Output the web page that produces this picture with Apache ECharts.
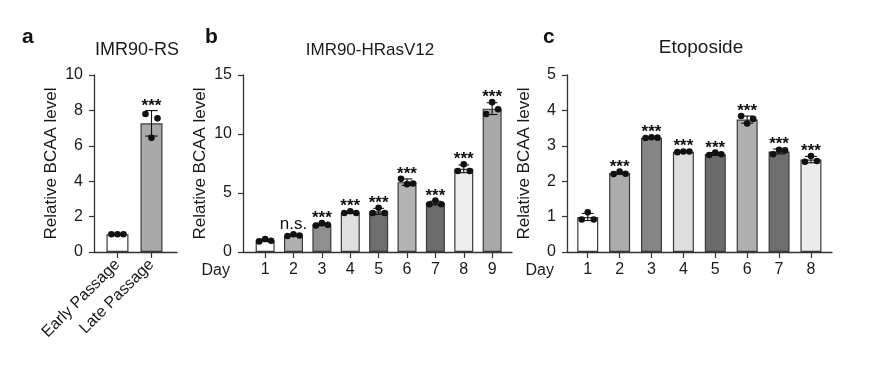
<!DOCTYPE html>
<html>
<head>
<meta charset="utf-8">
<script src="https://cdn.jsdelivr.net/npm/echarts@6/dist/echarts.min.js"></script>
<style>
html,body{margin:0;padding:0;background:#fff;}
#chart{width:879px;height:373px;}
</style>
</head>
<body>
<div id="chart"></div>
<script>
// ---------- data ----------
const catsA = ['Early Passage', 'Late Passage'];
const meanA = [1.0, 7.27];
const sdA = [0.02, 0.72];
const dotsA = [[1.0, 1.0, 1.0], [7.8, 6.45, 7.55]];
const sigA = ['', '***'];

const catsB = ['1', '2', '3', '4', '5', '6', '7', '8', '9'];
const meanB = [0.98, 1.42, 2.33, 3.35, 3.45, 5.92, 4.15, 7.05, 12.15];
const sdB = [0.1, 0.08, 0.1, 0.08, 0.25, 0.27, 0.16, 0.33, 0.5];
const dotsB = [[0.9, 1.1, 0.95], [1.35, 1.5, 1.4], [2.25, 2.45, 2.3], [3.3, 3.45, 3.3], [3.3, 3.75, 3.3],
  [6.2, 5.75, 5.8], [4.05, 4.35, 4.05], [6.87, 7.44, 6.87], [11.7, 12.7, 12.1]];
const sigB = ['', 'n.s.', '***', '***', '***', '***', '***', '***', '***'];

const catsC = ['1', '2', '3', '4', '5', '6', '7', '8'];
const meanC = [0.99, 2.23, 3.23, 2.83, 2.77, 3.74, 2.84, 2.61];
const sdC = [0.1, 0.03, 0.02, 0.02, 0.04, 0.1, 0.07, 0.09];
const dotsC = [[0.92, 1.12, 0.92], [2.2, 2.27, 2.21], [3.22, 3.24, 3.23], [2.82, 2.84, 2.84], [2.74, 2.81, 2.76],
  [3.84, 3.63, 3.76], [2.76, 2.89, 2.87], [2.55, 2.71, 2.57]];
const sigC = ['', '***', '***', '***', '***', '***', '***', '***'];

// ---------- styles ----------
const colorsA = ['#ffffff', '#a9a9a9'];
const colorsB = ['#ffffff', '#b0b0b0', '#8f8f8f', '#e0e0e0', '#6e6e6e', '#b3b3b3', '#6c6c6c', '#eeeeee', '#a8a8a8'];
const colorsC = ['#ffffff', '#acacac', '#858585', '#dedede', '#6b6b6b', '#b0b0b0', '#6e6e6e', '#ebebeb'];
const FONT = "'Liberation Sans', Arial, sans-serif";
const AX = '#333';
const TXT = '#1a1a1a';
const dotOffsets = [-6, 0, 6];

const panels = [
  {cats: catsA, mean: meanA, sd: sdA, dots: dotsA, sig: sigA, colors: colorsA,
   grid: {left: 94, top: 75, width: 83, height: 177}, xmin: 0.31, xmax: 2.75, ymax: 10, yint: 2,
   barWidth: 22, rotate: 45, dayName: ''},
  {cats: catsB, mean: meanB, sd: sdB, dots: dotsB, sig: sigB, colors: colorsB,
   grid: {left: 243, top: 75, width: 269, height: 177}, xmin: 0.22, xmax: 9.7, ymax: 15, yint: 5,
   barWidth: 19, rotate: 0, dayName: 'Day'},
  {cats: catsC, mean: meanC, sd: sdC, dots: dotsC, sig: sigC, colors: colorsC,
   grid: {left: 567, top: 75, width: 265, height: 177}, xmin: 0.35, xmax: 8.66, ymax: 5, yint: 1,
   barWidth: 21, rotate: 0, dayName: 'Day'}
];

const grids = [], xAxes = [], yAxes = [], series = [];
panels.forEach((p, i) => {
  grids.push(Object.assign({containLabel: false}, p.grid));
  const ticks = p.cats.map((c, k) => k + 1);
  xAxes.push({
    type: 'value', gridIndex: i, min: p.xmin, max: p.xmax,
    axisLine: {show: true, lineStyle: {color: AX, width: 1.3}},
    axisTick: {show: true, customValues: ticks, length: 6, lineStyle: {color: AX, width: 1.2}},
    axisLabel: {customValues: ticks, formatter: v => p.cats[Math.round(v) - 1], fontSize: 16,
      color: TXT, fontFamily: FONT, rotate: p.rotate, margin: 10},
    splitLine: {show: false},
    name: p.dayName, nameLocation: 'start', nameGap: 13,
    nameTextStyle: {fontSize: 16, color: TXT, fontFamily: FONT, verticalAlign: 'top', padding: [11, 0, 0, 0]}
  });
  yAxes.push({
    type: 'value', gridIndex: i, min: 0, max: p.ymax, interval: p.yint,
    axisLine: {show: true, lineStyle: {color: AX, width: 1.3}},
    axisTick: {show: true, length: 5, lineStyle: {color: AX, width: 1.2}},
    axisLabel: {fontSize: 16, color: TXT, fontFamily: FONT, margin: 11},
    splitLine: {show: false},
    name: 'Relative BCAA level', nameLocation: 'middle', nameGap: 34,
    nameTextStyle: {fontSize: 17, color: TXT, fontFamily: FONT}
  });
  series.push({
    type: 'bar', xAxisIndex: i, yAxisIndex: i, barWidth: p.barWidth,
    itemStyle: {borderColor: '#3a3a3a', borderWidth: 1.2},
    data: p.mean.map((m, k) => ({value: [k + 1, m], itemStyle: {color: p.colors[k]}})),
    z: 2
  });
  // error bars
  series.push({
    type: 'custom', xAxisIndex: i, yAxisIndex: i, z: 3,
    data: p.mean.map((m, k) => [k + 1, m, p.sd[k]]),
    renderItem: (params, api) => {
      const x = api.value(0), m = api.value(1), s = api.value(2);
      const t = api.coord([x, m + s]), b = api.coord([x, m - s]);
      const cw = p.barWidth * 0.28;
      const st = {stroke: '#111', lineWidth: 1.1};
      return {type: 'group', children: [
        {type: 'line', shape: {x1: t[0], y1: t[1], x2: b[0], y2: b[1]}, style: st},
        {type: 'line', shape: {x1: t[0] - cw, y1: t[1], x2: t[0] + cw, y2: t[1]}, style: st},
        {type: 'line', shape: {x1: b[0] - cw, y1: b[1], x2: b[0] + cw, y2: b[1]}, style: st}
      ]};
    }
  });
  // individual points
  const dotData = [];
  p.dots.forEach((arr, k) => arr.forEach((v, j) => dotData.push([k + 1, v, j])));
  series.push({
    type: 'custom', xAxisIndex: i, yAxisIndex: i, z: 4,
    data: dotData,
    renderItem: (params, api) => {
      const pt = api.coord([api.value(0), api.value(1)]);
      return {type: 'circle', shape: {cx: pt[0] + dotOffsets[api.value(2)], cy: pt[1], r: 3.3},
        style: {fill: '#111'}};
    }
  });
  // significance labels
  series.push({
    type: 'custom', xAxisIndex: i, yAxisIndex: i, z: 5,
    data: p.mean.map((m, k) => [k + 1, Math.max(m + p.sd[k], ...p.dots[k]), k]),
    renderItem: (params, api) => {
      const k = api.value(2);
      const s = p.sig[k];
      if (!s) return null;
      const pt = api.coord([api.value(0), api.value(1)]);
      const star = s === '***';
      return {type: 'text', x: pt[0], y: pt[1] - (star ? 4.5 : 10),
        style: {text: s, fill: '#111', align: 'center', verticalAlign: 'middle',
          font: (star ? 'bold 17px ' : '17px ') + FONT}};
    }
  });
});

const chart = echarts.init(document.getElementById('chart'), null, {renderer: 'canvas'});
chart.setOption({
  backgroundColor: '#fff',
  animation: false,
  title: [
    {text: 'a', left: 22, top: 27, padding: 0, textStyle: {fontSize: 21, fontWeight: 'bold', color: '#111', fontFamily: FONT}},
    {text: 'b', left: 205, top: 27, padding: 0, textStyle: {fontSize: 21, fontWeight: 'bold', color: '#111', fontFamily: FONT}},
    {text: 'c', left: 543, top: 27, padding: 0, textStyle: {fontSize: 21, fontWeight: 'bold', color: '#111', fontFamily: FONT}},
    {text: 'IMR90-RS', left: 137, top: 41, textAlign: 'center', padding: 0, textStyle: {fontSize: 18, fontWeight: 'normal', color: TXT, fontFamily: FONT}},
    {text: 'IMR90-HRasV12', left: 370, top: 42, textAlign: 'center', padding: 0, textStyle: {fontSize: 17, fontWeight: 'normal', color: TXT, fontFamily: FONT}},
    {text: 'Etoposide', left: 701, top: 38, textAlign: 'center', padding: 0, textStyle: {fontSize: 19, fontWeight: 'normal', color: TXT, fontFamily: FONT}}
  ],
  grid: grids, xAxis: xAxes, yAxis: yAxes, series: series
});
</script>
</body>
</html>
